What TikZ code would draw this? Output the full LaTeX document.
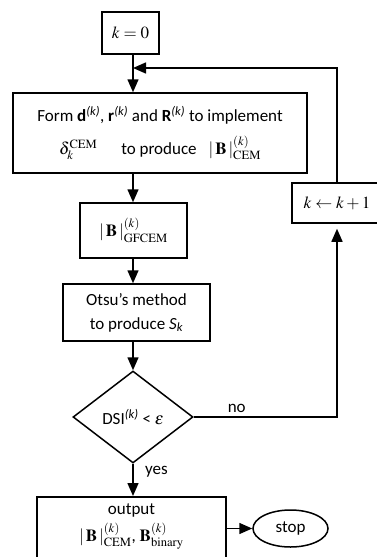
\documentclass[tikz,border=0pt]{standalone}
\usepackage{mathptmx}
\usepackage[no-math]{fontspec}
\setmainfont{Carlito}
\usetikzlibrary{arrows.meta,shapes.geometric}

\begin{document}
\begin{tikzpicture}[
    x = 1pt, y = -1pt, % one unit per pixel, y pointing down
    > = {Triangle[length=13pt,width=11pt]}, % arrow head style
    line width = 1.5pt, % line style
    font = \fontsize{17}{24}\selectfont
    ]

    \tikzset{
    box/.style = {draw = black, rectangle, inner sep = 0pt, align = center},
    decision/.style = {draw = black, diamond, inner sep = 0pt,
        minimum width = 120pt, minimum height = 92pt},
    term/.style = {draw = black, ellipse, inner sep = 0pt,
        minimum width = 75pt, minimum height = 37pt}
    }
    \useasboundingbox (0,0) rectangle (376,557);

    \node[box, minimum width=57pt, minimum height=42pt] (k0) at (130.5,33) {$k=0$};
    \node[box, minimum width=294pt, minimum height=80pt] (form) at (160,133)
        {Form \textbf{d}\textsuperscript{\textit{(k)}}, \textbf{r}\textsuperscript{\textit{(k)}} and \textbf{R}\textsuperscript{\textit{(k)}} to implement\\[9pt]
         $\delta_k^{\mathrm{CEM}}$\hspace{24pt}to produce\hspace{12pt}$|\,\mathbf{B}\,|^{(k)}_{\mathrm{CEM}}$};
    \node[box, minimum width=107pt, minimum height=55pt] (gf) at (133.5,230.5)
        {$|\,\mathbf{B}\,|^{(k)}_{\mathrm{GFCEM}}$};
    \node[box, minimum width=147pt, minimum height=57pt] (otsu) at (136.5,312.5)
        {Otsu’s method\\to produce \textit{S}\textsubscript{\textit{k}}};
    \node[decision] (dsi) at (133,417) {DSI\textsuperscript{\textit{(k)}} < $\varepsilon$};
    \node[box, minimum width=90pt, minimum height=40pt] (inc) at (337,203) {$k \leftarrow k+1$};
    \node[box, anchor=north, minimum width=189pt, inner ysep=7pt, text depth=30pt] (out) at (131.5,496)
        {output\\[3pt] $|\,\mathbf{B}\,|^{(k)}_{\mathrm{CEM}}$, $\mathbf{B}^{(k)}_{\mathrm{binary}}$};
    \node[term] (stop) at (290.5,528.5) {stop};
    \coordinate (fb) at (133,68);

    \path[->] (k0.south -| dsi) edge (form.north -| dsi);
    \path[->] (form.south -| dsi) edge (gf.north -| dsi);
    \path[->] (gf.south -| dsi) edge (otsu.north -| dsi);
    \path[->] (otsu.south -| dsi) edge (dsi.north);
    \path[->] (dsi.south) edge node[pos=0.25, right=8pt]{yes} (out.north -| dsi);
    \draw[->, shorten > = 5pt] (dsi.east) -| node[pos=0.15, above]{no} (inc.south);
    \draw[->] (inc.north) |- (fb);
    \path[->] (stop.west -| out.east) edge (stop.west);
\end{tikzpicture}
\end{document}
